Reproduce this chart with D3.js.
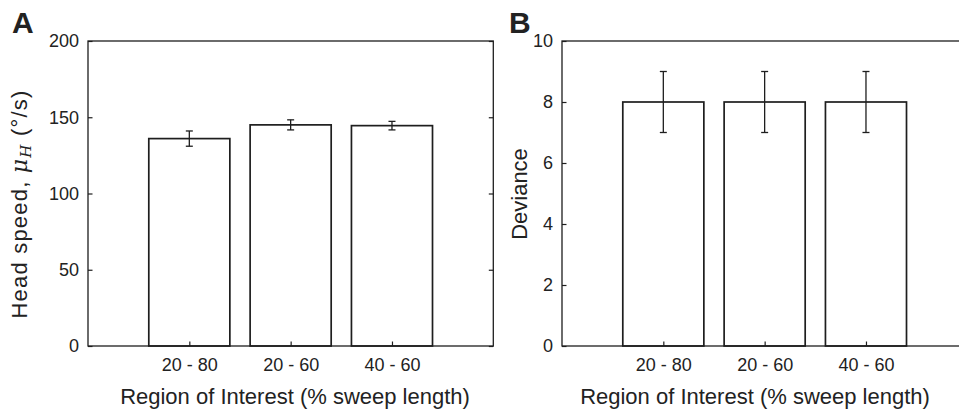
<!DOCTYPE html>
<html>
<head>
<meta charset="utf-8">
<script src="https://d3js.org/d3.v7.min.js"></script>
<style>
  body { margin: 0; background: #fff; }
  svg text { font-family: "Liberation Sans", Arial, Helvetica, sans-serif; fill: #222; }
</style>
</head>
<body>
<svg id="chart" width="959" height="413"></svg>
<script>
const categories = ["20 - 80", "20 - 60", "40 - 60"];
const speedMean = [136, 145, 144.5];
const speedErr = [5, 3.3, 2.8];
const devianceMean = [8, 8, 8];
const devianceErr = [1, 1, 1];
const speedTicks = [0, 50, 100, 150, 200];
const devianceTicks = [0, 2, 4, 6, 8, 10];

const svg = d3.select("#chart");
const ink = "#1e1e1e";
const plotTop = 41, plotBottom = 346;

function panel(opts) {
    const g = svg.append("g");
    const x = d3.scaleLinear().domain([0, 4]).range([opts.left, opts.left + 405.3]);
    const y = d3.scaleLinear().domain(opts.domain).range([plotBottom, plotTop]);

    const data = categories.map((c, i) => ({ c: c, pos: i + 1, v: opts.mean[i], e: opts.err[i] }));

    g.selectAll("rect.bar")
        .data(data)
        .enter().append("rect")
        .attr("class", "bar")
        .attr("x", d => x(d.pos - 0.4))
        .attr("y", d => y(d.v))
        .attr("width", d => x(d.pos + 0.4) - x(d.pos - 0.4))
        .attr("height", d => y(0) - y(d.v))
        .attr("fill", "#fff")
        .attr("stroke", ink)
        .attr("stroke-width", 1.7);

    // error bars
    const cap = 3.5;
    const eb = g.selectAll("g.err").data(data).enter().append("g")
        .attr("stroke", ink).attr("stroke-width", 1.3);
    eb.append("line")
        .attr("x1", d => x(d.pos)).attr("x2", d => x(d.pos))
        .attr("y1", d => y(d.v - d.e)).attr("y2", d => y(d.v + d.e));
    eb.append("line")
        .attr("x1", d => x(d.pos) - cap).attr("x2", d => x(d.pos) + cap)
        .attr("y1", d => y(d.v + d.e)).attr("y2", d => y(d.v + d.e));
    eb.append("line")
        .attr("x1", d => x(d.pos) - cap).attr("x2", d => x(d.pos) + cap)
        .attr("y1", d => y(d.v - d.e)).attr("y2", d => y(d.v - d.e));

    // box
    g.append("rect")
        .attr("x", x(0)).attr("y", plotTop)
        .attr("width", x(4) - x(0)).attr("height", plotBottom - plotTop)
        .attr("fill", "none").attr("stroke", ink).attr("stroke-width", 1.3);

    // y axis, ticks pointing inward
    const yAxis = d3.axisLeft(y).tickValues(opts.ticks).tickSize(-4.5).tickPadding(9);
    const ya = g.append("g").attr("transform", `translate(${x(0)},0)`).call(yAxis);
    ya.select(".domain").remove();
    ya.selectAll("line").attr("stroke", ink).attr("stroke-width", 1.2);
    ya.selectAll("text").style("font-size", "18px").attr("fill", ink);

    const yAxisR = d3.axisRight(y).tickValues(opts.ticks).tickSize(-4.5).tickFormat("");
    const yr = g.append("g").attr("transform", `translate(${x(4)},0)`).call(yAxisR);
    yr.select(".domain").remove();
    yr.selectAll("line").attr("stroke", ink).attr("stroke-width", 1.2);

    // x axis
    const xAxis = d3.axisBottom(x).tickValues([1, 2, 3])
        .tickFormat(d => categories[d - 1]).tickSize(-4.5).tickPadding(12);
    const xa = g.append("g").attr("transform", `translate(0,${plotBottom})`).call(xAxis);
    xa.select(".domain").remove();
    xa.selectAll("line").attr("stroke", ink).attr("stroke-width", 1.2);
    xa.selectAll("text").style("font-size", "18px").attr("fill", ink);

    g.append("text")
        .attr("x", opts.xLabelX).attr("y", 404)
        .attr("text-anchor", "middle")
        .style("font-size", "22px")
        .text("Region of Interest (% sweep length)");

    const yl = g.append("text")
        .attr("transform", `translate(${opts.yLabelX},${opts.yLabelY}) rotate(-90)`)
        .attr("text-anchor", "middle")
        .style("font-size", "22px");
    opts.yLabel(yl);

    g.append("text")
        .attr("x", opts.letterX).attr("y", 33)
        .style("font-size", "30px").style("font-weight", "bold")
        .text(opts.letter);
}

panel({
    left: 88, domain: [0, 200], mean: speedMean, err: speedErr, ticks: speedTicks,
    xLabelX: 295, yLabelX: 27, yLabelY: 204, letter: "A", letterX: 12,
    yLabel: t => {
        t.style("letter-spacing", "1.2px");
        t.append("tspan").text("Head speed,  ");
        t.append("tspan").style("font-family", "'DejaVu Serif', 'Liberation Serif', serif")
            .style("font-style", "italic").text("\u03bc");
        t.append("tspan").style("font-family", "'DejaVu Serif', 'Liberation Serif', serif")
            .style("font-style", "italic").style("font-size", "15px").attr("dy", 4).text("H");
        t.append("tspan").attr("dy", -4).text("  (\u00b0/s)");
    }
});

panel({
    left: 562, domain: [0, 10], mean: devianceMean, err: devianceErr, ticks: devianceTicks,
    xLabelX: 755, yLabelX: 527, yLabelY: 194, letter: "B", letterX: 509,
    yLabel: t => t.text("Deviance")
});
</script>
</body>
</html>
